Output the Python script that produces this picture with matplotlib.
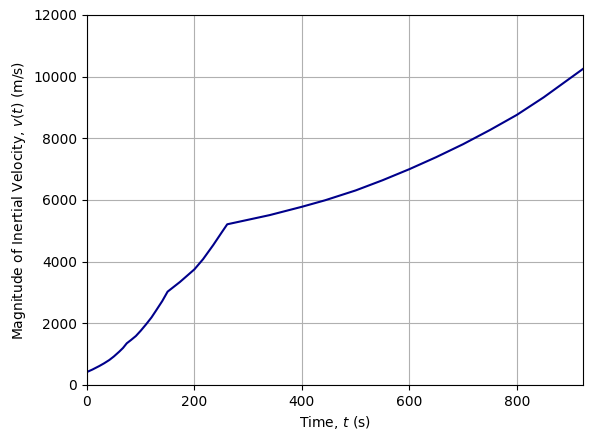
import matplotlib
matplotlib.use('Agg')
import matplotlib.pyplot as plt

# time (s) and inertial velocity (m/s)
t = [0, 10, 23, 32, 41.6, 50, 60, 67, 74,
     82, 91, 100, 110, 120, 128, 140, 150,
     173, 200, 216, 235, 250, 261,
     340, 400, 443, 500, 550, 600, 650, 700, 750, 800, 850, 900, 923]
v = [422, 500, 616, 705, 811, 925, 1081, 1200, 1352,
     1460, 1589, 1760, 1968, 2190, 2400, 2720, 3027,
     3341, 3752, 4080, 4540, 4930, 5212,
     5510, 5780, 5990, 6310, 6640, 7000, 7390, 7810, 8270, 8760, 9330, 9960, 10250]

fig = plt.figure(figsize=(5.93, 4.41), dpi=100)
ax = fig.add_axes([0.1467, 0.127, 0.8363, 0.839])

ax.plot(t, v, color='darkblue', linewidth=1.5)
ax.set_xlim(0, 923)
ax.set_ylim(0, 12000)
ax.grid(True)
ax.set_xlabel('Time, $t$ (s)')
ax.set_ylabel('Magnitude of Inertial Velocity, $v(t)$ (m/s)')

plt.savefig('out.png')
